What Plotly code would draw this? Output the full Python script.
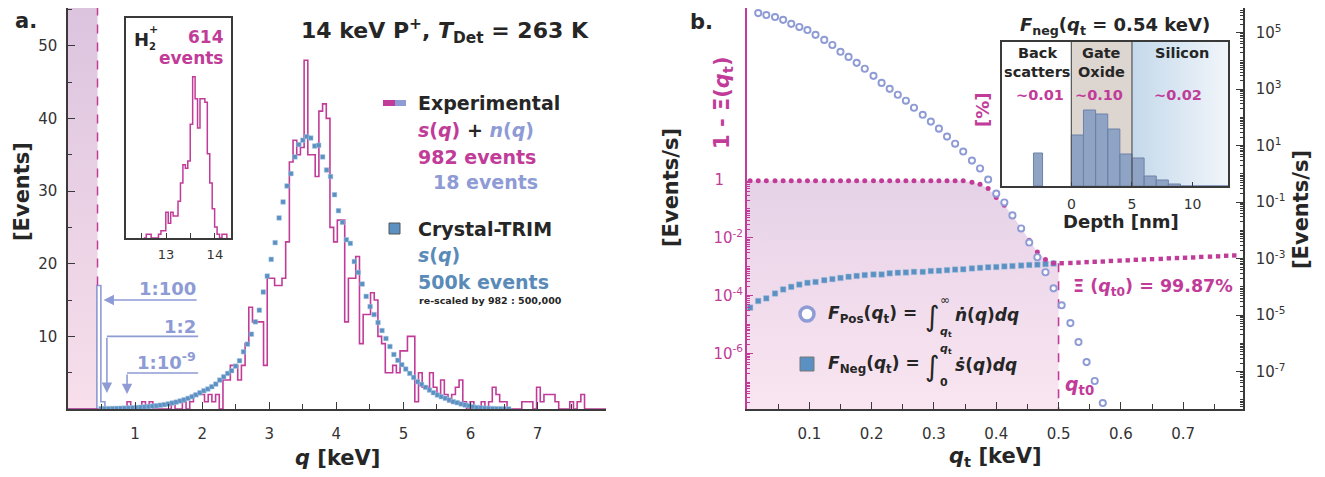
import numpy as np
import plotly.graph_objects as go

# page body has an 8 px margin -> figure is drawn 8 px right/down; compensate
OFF = 8
W, H = 1325 - OFF, 477 - OFF
FONT = "DejaVu Sans"
MAG = "#c13c98"
LAV = "#8e9bd5"
TRIMC = "#5b90c2"
TRIMT = "#5a8bb8"
INK = "#262626"
AX = "#3a3a3a"

# ---------------- data : panel a ----------------
exp_bin_width = 0.055          # keV, experimental s(q) histogram
exp_counts = [0] * 16 + [
    1, 0, 0, 0, 1, 0, 1, 0, 0, 0,
    0, 0, 1, 0, 0, 1, 0, 1, 2, 2,
    2, 1, 2, 1, 2, 0, 4, 4, 6, 6,
    4, 6, 9, 14, 12, 12, 12, 6, 18, 18,
    17, 17, 18, 23, 34, 37, 35, 36, 48, 35,
    35, 32, 41, 42, 40, 25, 23, 26, 26, 12,
    18, 18, 21, 9, 13, 13, 16, 15, 10, 9,
    5, 5, 6, 5, 8, 8, 10, 10, 1, 5,
    3, 3, 5, 3, 2, 4, 2, 1, 2, 3,
    4, 1, 0, 1, 0, 0, 1, 0, 1, 3,
    2, 1, 1, 0, 0, 0, 0, 1, 1, 1,
    0, 3, 1, 2, 2, 2, 1, 0, 0, 0,
    1, 0, 1, 2, 0, 0, 0, 0, 0, 0]
n_edges = [0.0, 0.43, 0.49, 0.55, 0.61]   # noise n(q) histogram
n_counts = [0, 17, 1, 0]
q_noise_cut = 0.44                         # dashed threshold in panel a

trim_q0, trim_dq = 0.492, 0.059            # Crystal-TRIM grid
trim_counts = [
    0.05, 0.05, 0.06, 0.07, 0.08, 0.10, 0.12, 0.14, 0.17, 0.20,
    0.24, 0.28, 0.33, 0.39, 0.45, 0.52, 0.60, 0.70, 0.82, 0.95,
    1.10, 1.27, 1.46, 1.70, 1.95, 2.24, 2.52, 2.75, 3.07, 3.43,
    3.98, 4.44, 4.90, 5.27, 5.90, 6.64, 7.88, 8.93, 10.3, 12.0,
    13.6, 16.1, 18.3, 20.6, 22.9, 26.3, 28.5, 30.7, 32.4, 34.7,
    36.4, 37.0, 37.5, 37.3, 36.2, 36.3, 34.7, 32.9, 32.0, 29.5,
    27.3, 25.7, 23.3, 22.8, 20.3, 18.8, 17.2, 15.5, 14.1, 13.0,
    11.9, 10.8, 9.7, 8.6, 7.5, 6.7, 6.1, 5.5, 4.9, 4.35,
    3.75, 3.39, 2.98, 2.60, 2.24, 1.92, 1.69, 1.47, 1.24, 1.00,
    0.87, 0.69, 0.55, 0.45, 0.30, 0.20, 0.15, 0.10, 0.08, 0.06,
    0.04, 0.03, 0.02, 0.01]

h2_q0, h2_bin = 12.545, 0.05               # H2+ inset histogram
h2_counts = [0, 1, 1, 0, 0, 0, 1, 2, 2, 7, 4, 7, 6, 6, 10, 15, 20, 19, 21, 31,
             44, 38, 30, 38, 38, 37, 23, 15, 8, 3, 1, 0, 1, 1]

# ---------------- data : panel b ----------------
qt = [0.005, 0.018, 0.031, 0.045, 0.058, 0.071, 0.084, 0.097, 0.110, 0.124,
      0.137, 0.150, 0.163, 0.176, 0.189, 0.203, 0.216, 0.229, 0.242, 0.255,
      0.268, 0.282, 0.295, 0.308, 0.321, 0.334, 0.347, 0.361, 0.374, 0.387,
      0.400, 0.413, 0.426, 0.440, 0.453, 0.466, 0.479, 0.492, 0.505, 0.519,
      0.532, 0.545, 0.558, 0.571, 0.584, 0.598, 0.611, 0.624, 0.637, 0.650,
      0.664, 0.677, 0.690, 0.703, 0.716, 0.729, 0.743, 0.756, 0.769, 0.782]
qt0 = 0.5
# 1 - Xi(q_t)  (left axis)
one_minus_xi = [1.0] * 27 + [
    0.89, 0.76, 0.54, 0.263, 0.141, 0.0617, 0.0229, 8.7e-3, 3.39e-3, 1.86e-3, 1.41e-3,
    1.38e-3, 1.41e-3, 1.45e-3, 1.51e-3, 1.55e-3, 1.58e-3, 1.66e-3, 1.70e-3, 1.74e-3,
    1.82e-3, 1.86e-3, 1.91e-3, 1.95e-3, 2.04e-3, 2.09e-3, 2.14e-3, 2.19e-3, 2.29e-3,
    2.34e-3, 2.40e-3, 2.51e-3, 2.57e-3]
n_below = 38   # points with q_t < q_t0 drawn as dots
# F_Neg (left axis), q_t = qt[0:38]
f_neg = [3.98e-5, 6.76e-5, 8.32e-5, 1.23e-4, 1.70e-4, 2.09e-4, 2.51e-4, 2.88e-4,
         3.09e-4, 3.55e-4, 3.89e-4, 4.27e-4, 4.68e-4, 5.01e-4, 5.37e-4, 5.62e-4,
         5.62e-4, 6.17e-4, 6.46e-4, 6.61e-4, 6.92e-4, 6.92e-4, 7.41e-4, 7.59e-4,
         7.94e-4, 8.32e-4, 8.51e-4, 9.12e-4, 9.55e-4, 1.00e-3, 1.02e-3, 1.07e-3,
         1.10e-3, 1.15e-3, 1.20e-3, 1.23e-3, 1.29e-3, 1.35e-3]
# F_Pos (right axis, events/s), q_t = qt[1:44]
f_pos = [4.9e5, 4.17e5, 3.55e5, 2.82e5, 2.04e5, 1.58e5, 1.23e5, 8.3e4, 5.5e4, 3.63e4,
         2.09e4, 1.38e4, 8.5e3, 5.25e3, 2.95e3, 1.66e3, 1.02e3, 631, 389, 219,
         123, 70.8, 39.8, 20.9, 11.7, 6.17, 2.95, 1.55, 0.631, 0.2,
         0.0977, 0.0339, 0.0117, 3.72e-3, 1.12e-3, 3.31e-4, 8.91e-5, 2.24e-5, 5.25e-6, 1.12e-6,
         2.19e-7, 4.68e-8, 7.76e-9]
# inset: depth distribution of F_neg(q_t = 0.54 keV)
depth_center = [-2.75, 0.5, 1.5, 2.5, 3.5, 4.5, 5.5, 6.5, 7.5, 8.5, 9.5, 10.5, 11.5, 12.5]
depth_width = [0.75, 1, 1, 1, 1, 1, 1, 1, 1, 1, 1, 1, 1, 1]
depth_height = [33, 51, 76, 72, 57, 32, 28, 10, 6, 2, 0.5, 0.7, 0.4, 0.3]
oxide_nm, depth_max = 5.0, 12.92

# ---------------- helpers ----------------
def X(px):
    return (px - OFF) / W


def Y(py):
    return 1 - (py - OFF) / H


fig = go.Figure()
annots = []
shapes = []


def ann(text, x, y, size=15, color=INK, xanchor="center", yanchor="middle", angle=0):
    annots.append(dict(text=text, x=X(x), y=Y(y), xref="paper", yref="paper",
                       showarrow=False, xanchor=xanchor, yanchor=yanchor, textangle=angle,
                       font=dict(family=FONT, size=size, color=color)))


tickfont = dict(family=FONT, size=15, color="#333333")

# ---------------- panel a traces ----------------
YA_TOP = 55.2
fig.add_trace(go.Scatter(x=[0, q_noise_cut, q_noise_cut, 0, 0], y=[0, 0, YA_TOP, YA_TOP, 0],
                         fill="toself", mode="lines", line=dict(width=0),
                         fillgradient=dict(type="vertical", colorscale=[[0, "#f8dfeb"], [1, "#dcc4df"]]),
                         xaxis="x", yaxis="y", hoverinfo="skip"))
fig.add_trace(go.Scatter(x=n_edges, y=n_counts + [n_counts[-1]], mode="lines", line_shape="hv",
                         line=dict(color=LAV, width=1.6), xaxis="x", yaxis="y"))
fig.add_trace(go.Scatter(x=[q_noise_cut, q_noise_cut], y=[n_counts[1], YA_TOP], mode="lines",
                         line=dict(color=MAG, width=1.5, dash="dash"), xaxis="x", yaxis="y"))
edges = list(np.arange(len(exp_counts) + 1) * exp_bin_width)
fig.add_trace(go.Scatter(x=edges, y=exp_counts + [exp_counts[-1]], mode="lines", line_shape="hv",
                         line=dict(color=MAG, width=1.6), xaxis="x", yaxis="y"))
trim_q = list(trim_q0 + np.arange(len(trim_counts)) * trim_dq)
fig.add_trace(go.Scatter(x=trim_q, y=trim_counts, mode="markers",
                         marker=dict(symbol="square", size=4.6, color=TRIMC,
                                     line=dict(color="#a9c6e2", width=0.5)),
                         xaxis="x", yaxis="y"))
h2_edges = list(h2_q0 + np.arange(len(h2_counts) + 1) * h2_bin)
fig.add_trace(go.Scatter(x=h2_edges, y=h2_counts + [0], mode="lines", line_shape="hv",
                         line=dict(color=MAG, width=1.5), xaxis="x3", yaxis="y3"))

# ---------------- panel b traces ----------------
poly_x = [0] + qt[:n_below] + [qt0, qt0, 0]
poly_y = [1.0] + one_minus_xi[:n_below] + [one_minus_xi[n_below], 1e-9, 1e-9]
fig.add_trace(go.Scatter(x=poly_x, y=poly_y, fill="toself", mode="lines", line=dict(width=0),
                         fillgradient=dict(type="vertical", colorscale=[[0, "#fce8f2"], [1, "#e6d2e7"]]),
                         xaxis="x2", yaxis="y4", hoverinfo="skip"))
fig.add_trace(go.Scatter(x=[qt0, qt0], y=[one_minus_xi[n_below], 1e-9], mode="lines",
                         line=dict(color=MAG, width=1.6, dash="dash"), xaxis="x2", yaxis="y4"))
fig.add_trace(go.Scatter(x=qt[:len(f_neg)], y=f_neg, mode="markers",
                         marker=dict(symbol="square", size=5.5, color=TRIMC,
                                     line=dict(color="#9dbddc", width=0.5)),
                         xaxis="x2", yaxis="y4"))
fig.add_trace(go.Scatter(x=qt[:n_below], y=one_minus_xi[:n_below], mode="markers",
                         marker=dict(symbol="circle", size=5, color=MAG),
                         xaxis="x2", yaxis="y4"))
fig.add_trace(go.Scatter(x=qt[n_below:], y=one_minus_xi[n_below:], mode="markers",
                         marker=dict(symbol="square", size=4.4, color=MAG),
                         xaxis="x2", yaxis="y4"))
fig.add_trace(go.Scatter(x=qt[1:1 + len(f_pos)], y=f_pos, mode="markers",
                         marker=dict(symbol="circle", size=6.2, color="white",
                                     line=dict(color=LAV, width=1.9)),
                         xaxis="x2", yaxis="y5"))
fig.add_trace(go.Scatter(x=[None], y=[None], mode="markers", xaxis="x2", yaxis="y6"))

# inset b
fig.add_trace(go.Scatter(x=[0, oxide_nm, oxide_nm, 0, 0], y=[0, 0, 144, 144, 0], fill="toself",
                         mode="lines", line=dict(width=0), fillcolor="#ddd5cf",
                         xaxis="x4", yaxis="y7"))
fig.add_trace(go.Scatter(x=[oxide_nm, depth_max, depth_max, oxide_nm, oxide_nm], y=[0, 0, 144, 144, 0],
                         fill="toself", mode="lines", line=dict(width=0),
                         fillgradient=dict(type="horizontal", colorscale=[[0, "#c4d9eb"], [1, "#f1f5fa"]]),
                         xaxis="x4", yaxis="y7"))
bar_x, bar_y = [], []
for c, w, h in zip(depth_center, depth_width, depth_height):
    bar_x += [c - w / 2, c + w / 2, c + w / 2, c - w / 2, c - w / 2, None]
    bar_y += [0, 0, h, h, 0, None]
fig.add_trace(go.Scatter(x=bar_x, y=bar_y, fill="toself", mode="lines", fillcolor="#8fa3c4",
                         line=dict(color="#6c82a8", width=1), xaxis="x4", yaxis="y7"))
for xs in (0, oxide_nm):
    fig.add_trace(go.Scatter(x=[xs, xs], y=[0, 144], mode="lines", line=dict(color="#555", width=1.2),
                             xaxis="x4", yaxis="y7"))

# ---------------- axes ----------------
DOM_Y = [Y(409), min(Y(7), 1.0)]
common = dict(showgrid=False, zeroline=False, showline=True, linecolor=AX, linewidth=1.5,
              tickfont=tickfont, tickcolor=AX, tickwidth=1.2, automargin=False)
NB = "\u00a0"
layout = dict(
    width=W, height=H, margin=dict(l=0, r=0, t=0, b=0, autoexpand=False),
    paper_bgcolor="white", plot_bgcolor="rgba(0,0,0,0)", showlegend=False,
    xaxis=dict(domain=[X(68), X(606)], range=[0, 8.02], anchor="y", mirror=True, ticks="inside",
               ticklen=7, tickvals=[1, 2, 3, 4, 5, 6, 7], ticklabelstandoff=10,
               minor=dict(tickvals=[0.5, 1.5, 2.5, 3.5, 4.5, 5.5, 6.5, 7.5], ticks="inside",
                          ticklen=5, tickcolor=AX), **common),
    yaxis=dict(domain=DOM_Y, range=[0, YA_TOP], anchor="x", ticks="inside", ticklen=7,
               tickvals=[10, 20, 30, 40, 50], ticklabelstandoff=6,
               minor=dict(tickvals=[5, 15, 25, 35, 45, 55], ticks="inside", ticklen=4, tickcolor=AX),
               **common),
    yaxis2=dict(overlaying="y", side="right", anchor="x", range=[0, 0.0731], ticks="inside",
                ticklen=7, tickvals=[0.01, 0.02, 0.03, 0.04, 0.05, 0.06, 0.07],
                ticktext=["0.01", "0.02", "0.03", "0.04", "0.05", "0.06", "0.07"], ticklabelstandoff=8,
                minor=dict(tickvals=[0.005, 0.015, 0.025, 0.035, 0.045, 0.055, 0.065], ticks="inside",
                           ticklen=4, tickcolor=AX), **common),
    xaxis3=dict(domain=[X(126), X(231)], range=[12.18, 14.33], anchor="y3", mirror=True,
                ticks="inside", ticklen=5, tickvals=[13, 14], ticklabelstandoff=4,
                minor=dict(tickvals=[12.5, 13.5], ticks="inside", ticklen=5, tickcolor=AX),
                **{**common, "tickfont": dict(family=FONT, size=13, color="#333")}),
    yaxis3=dict(domain=[Y(238), Y(18)], range=[0, 60], anchor="x3", mirror=True, ticks="",
                showticklabels=False, **common),
    xaxis2=dict(domain=[X(747), X(1243)], range=[0, 0.796], anchor="y4", mirror=True,
                ticks="inside", ticklen=7, tickvals=[0.1, 0.2, 0.3, 0.4, 0.5, 0.6, 0.7],
                ticktext=["0.1", "0.2", "0.3", "0.4", "0.5", "0.6", "0.7"], ticklabelstandoff=10,
                minor=dict(tickvals=[0.05, 0.15, 0.25, 0.35, 0.45, 0.55, 0.65, 0.75], ticks="inside",
                           ticklen=5, tickcolor=AX), **common),
    yaxis4=dict(domain=DOM_Y, type="log", range=[-7.92, 6], anchor="x2", ticks="",
                showticklabels=False, showgrid=False, zeroline=False, showline=True,
                linecolor=MAG, linewidth=1.6, automargin=False),
    yaxis5=dict(overlaying="y4", side="right", anchor="x2", type="log", range=[-8.32, 5.87],
                ticks="inside", ticklen=7,
                tickvals=[10.0 ** k for k in range(-7, 6, 2)],
                ticktext=["10<sup>%d</sup>" % k for k in range(-7, 6, 2)],
                ticklabelstandoff=8,
                minor=dict(ticks="inside", ticklen=3.5, dtick="D1", tickcolor=AX), **common),
    yaxis6=dict(domain=[Y(409), Y(180)], type="log", range=[-7.92, 0], anchor="x2",
                ticks="inside", ticklen=6, tickcolor=MAG, tickwidth=1.2, showline=False,
                showgrid=False, zeroline=False, automargin=False,
                tickvals=[1e-6, 1e-4, 1e-2, 1],
                ticktext=["10<sup>-6</sup>", "10<sup>-4</sup>", "10<sup>-2</sup>", "1" + NB * 4],
                tickfont=dict(family=FONT, size=15, color=MAG), ticklabelstandoff=3,
                minor=dict(ticks="inside", ticklen=3, dtick="D1", tickcolor=MAG)),
    xaxis4=dict(domain=[X(1002), X(1228)], range=[-5.72, depth_max], anchor="y7", mirror=True,
                ticks="inside", ticklen=4, tickvals=[0, 5, 10], ticklabelstandoff=4,
                **{**common, "tickfont": dict(family=FONT, size=14, color="#333")}),
    yaxis7=dict(domain=[Y(186), Y(42)], range=[0, 144], anchor="x4", mirror=True, ticks="",
                showticklabels=False, **common),
)

# ---------------- annotations : panel a ----------------
ann("<b>a.</b>", 13, 21, 21, xanchor="left")
ann("<b>[Events]</b>", 22, 192, 21, angle=-90)
ann("<b>[Events/s]</b>", 671, 188, 21, angle=-90)
ann("<b><i>q</i> [keV]</b>", 337, 458, 21)
ann("<b>14 keV P<sup>+</sup>, <i>T</i><sub>Det</sub> = 263 K</b>", 591, 31, 22, xanchor="right")
ann("<b>Experimental</b>", 416, 103, 19, xanchor="left")
ann("<b><span style='color:%s'><i>s</i>(<i>q</i>)</span> + <span style='color:%s'><i>n</i>(<i>q</i>)</span></b>"
    % (MAG, LAV), 416, 130, 19, xanchor="left")
ann("<b>982 events</b>", 416, 157, 19, MAG, xanchor="left")
ann("<b>18 events</b>", 431, 182, 19, LAV, xanchor="left")
ann("<b>Crystal-TRIM</b>", 416, 229, 19, xanchor="left")
ann("<b><i>s</i>(<i>q</i>)</b>", 416, 255, 19, TRIMT, xanchor="left")
ann("<b>500k events</b>", 416, 282, 19, TRIMT, xanchor="left")
ann("<b>re-scaled by 982 : 500,000</b>", 417, 300, 9.5, INK, xanchor="left")
ann("<b>1:100</b>", 198, 288, 18, LAV, xanchor="right")
ann("<b>1:2</b>", 198, 326, 18, LAV, xanchor="right")
ann("<b>1:10<sup>-9</sup></b>", 198, 361, 18, LAV, xanchor="right")
# inset a
ann("<b>H</b>", 132, 40, 18, INK, xanchor="left")
ann("<b>2</b>", 147, 47, 10, INK, xanchor="left")
ann("<b>+</b>", 147, 30, 11, INK, xanchor="left")
ann("<b>614</b>", 226, 37, 17, MAG, xanchor="right")
ann("<b>events</b>", 226, 58, 17, MAG, xanchor="right")

# arrows in panel a (data coordinates)
arrows = [((1.94, 15.0), (0.53, 15.0), None),
          ((1.94, 10.0), (0.58, 10.0), 2.2),
          ((1.94, 4.95), (0.88, 4.95), 2.05)]
for (x0, y0), (x1, y1), ydown in arrows:
    if ydown is None:
        annots.append(dict(x=x1, y=y1, ax=x0, ay=y0, xref="x", yref="y", axref="x", ayref="y",
                           text="", showarrow=True, arrowhead=2, arrowsize=1.3, arrowwidth=1.6,
                           arrowcolor=LAV))
    else:
        shapes.append(dict(type="line", xref="x", yref="y", x0=x0, y0=y0, x1=x1, y1=y1,
                           line=dict(color=LAV, width=1.6)))
        annots.append(dict(x=x1, y=ydown, ax=x1, ay=y1, xref="x", yref="y", axref="x", ayref="y",
                           text="", showarrow=True, arrowhead=2, arrowsize=1.3, arrowwidth=1.6,
                           arrowcolor=LAV))

# legend glyphs panel a
shapes.append(dict(type="rect", xref="paper", yref="paper", x0=X(383), x1=X(395), y0=Y(106), y1=Y(100),
                   fillcolor=MAG, line=dict(width=0)))
shapes.append(dict(type="rect", xref="paper", yref="paper", x0=X(395), x1=X(406), y0=Y(106), y1=Y(100),
                   fillcolor=LAV, line=dict(width=0)))
shapes.append(dict(type="rect", xref="paper", yref="paper", x0=X(389), x1=X(400), y0=Y(234), y1=Y(223),
                   fillcolor=TRIMC, line=dict(color="#555", width=1)))

# ---------------- annotations : panel b ----------------
ann("<b>b.</b>", 688, 22, 21, xanchor="left")
ann("<b>1 - Ξ(<i>q</i><sub>t</sub>)</b>", 723, 103, 21, MAG, angle=-90)
ann("<b>[%]</b>", 982, 110, 18, MAG, angle=-90)
ann("<b>[Events/s]</b>", 1301, 210, 21, angle=-90)
ann("<b><i>q</i><sub>t</sub> [keV]</b>", 995, 457, 21)
ann("<b><i>F</i><sub>neg</sub>(<i>q</i><sub>t</sub> = 0.54 keV)</b>", 1115, 26, 18)
ann("<b>Back</b>", 1037, 53, 14.5)
ann("<b>scatters</b>", 1037, 72, 14.5)
ann("<b>Gate</b>", 1101, 53, 14.5)
ann("<b>Oxide</b>", 1101, 72, 14.5)
ann("<b>Silicon</b>", 1182, 53, 14.5)
ann("<b>~0.01</b>", 1040, 95, 14.5, MAG)
ann("<b>~0.10</b>", 1099, 95, 14.5, MAG)
ann("<b>~0.02</b>", 1178, 95, 14.5, MAG)
ann("<b>Depth [nm]</b>", 1121, 221, 18)
# legend formulas
ann("<b><i>F</i><sub>Pos</sub>(<i>q</i><sub>t</sub>) =</b>", 826, 314, 17, xanchor="left")
ann("∫", 932, 316, 28)
ann("∞", 945, 300, 12)
ann("<b><i>q</i><sub>t</sub></b>", 946, 332, 11)
ann("<b><i>ṅ</i>(<i>q</i>)<i>dq</i></b>", 953, 315, 17, xanchor="left")
ann("<b><i>F</i><sub>Neg</sub>(<i>q</i><sub>t</sub>) =</b>", 826, 364, 17, xanchor="left")
ann("∫", 932, 366, 28)
ann("<b><i>q</i><sub>t</sub></b>", 946, 349, 11)
ann("<b>0</b>", 944, 382, 11)
ann("<b><i>ṡ</i>(<i>q</i>)<i>dq</i></b>", 953, 365, 17, xanchor="left")
ann("<b>Ξ (<i>q</i><sub>t0</sub>) = 99.87%</b>", 1071, 287, 17.5, MAG, xanchor="left")
ann("<b><i>q</i><sub>t0</sub></b>", 1063, 385, 19, MAG, xanchor="left")

shapes.append(dict(type="circle", xref="paper", yref="paper", x0=X(800), x1=X(814), y0=Y(321), y1=Y(307),
                   fillcolor="white", line=dict(color=LAV, width=3.5)))
shapes.append(dict(type="rect", xref="paper", yref="paper", x0=X(800), x1=X(814), y0=Y(371), y1=Y(357),
                   fillcolor=TRIMC, line=dict(color="#777", width=1)))

layout["annotations"] = annots
layout["shapes"] = shapes
fig.update_layout(**layout)
fig.update_xaxes(automargin=False)
fig.update_yaxes(automargin=False)
fig.write_html("out.html")
